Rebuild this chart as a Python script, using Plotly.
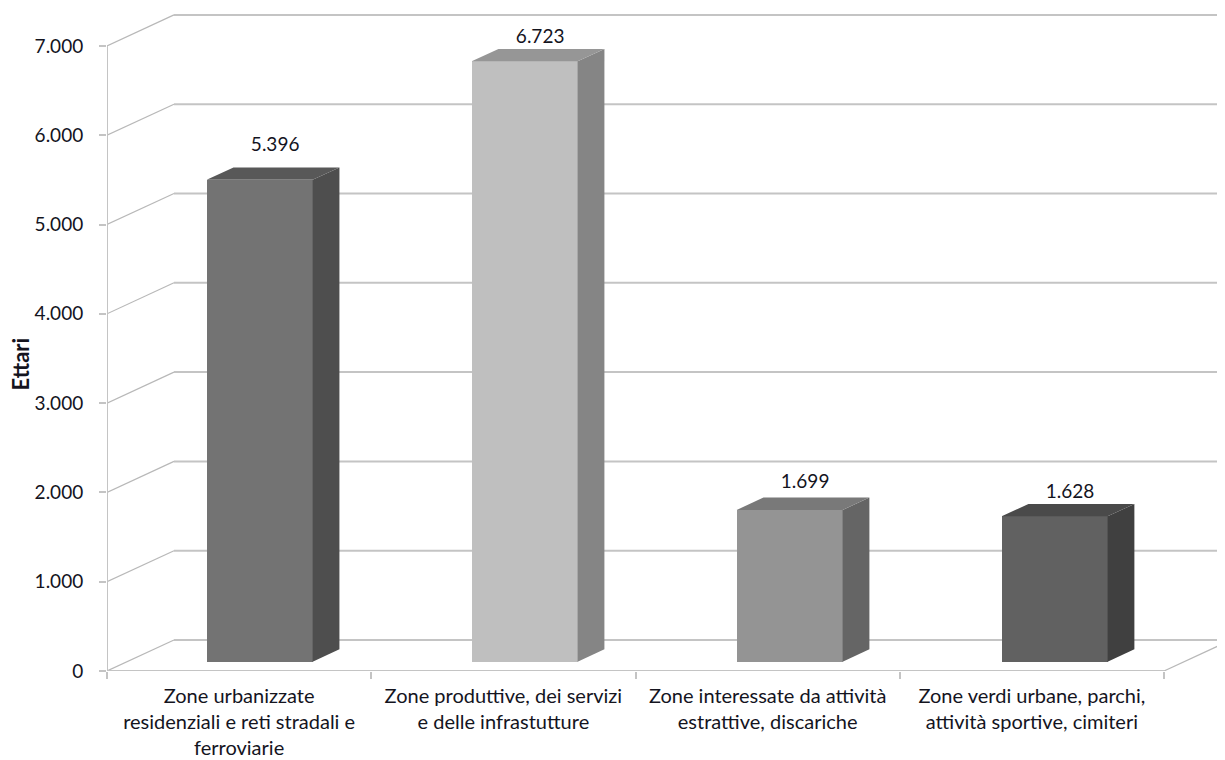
import plotly.graph_objects as go

categories = [
    "Zone urbanizzate<br>residenziali e reti stradali e<br>ferroviarie",
    "Zone produttive, dei servizi<br>e delle infrastutture",
    "Zone interessate da attività<br>estrattive, discariche",
    "Zone verdi urbane, parchi,<br>attività sportive, cimiteri",
]
values = [5396, 6723, 1699, 1628]
value_labels = ["5.396", "6.723", "1.699", "1.628"]
tick_values = [0, 1000, 2000, 3000, 4000, 5000, 6000, 7000]
tick_labels = ["0", "1.000", "2.000", "3.000", "4.000", "5.000", "6.000", "7.000"]

front_colors = ["#737373", "#bfbfbf", "#949494", "#616161"]
top_colors = ["#585858", "#969696", "#797979", "#4a4a4a"]
side_colors = ["#4e4e4e", "#858585", "#656565", "#404040"]
label_lift = [380, 260, 305, 260]

GRID = "#c4c4c4"
OBLIQUE = "#b8b8b8"
TEXT = "#14141e"
FONT = "Lato"

# oblique projection of the chart's depth, in axis units
DEPTH_X = 0.2535
DEPTH_Y = 347
BAR_W = 0.401
NEAR, FAR = 0.3, 0.7
BAR_STEP = 1.0028
n = len(categories)
slots = [i + 0.5 for i in range(n)]
centers = [(s + NEAR * DEPTH_X) * BAR_STEP for s in slots]
base_y = NEAR * DEPTH_Y
dx = (FAR - NEAR) * DEPTH_X
dy = (FAR - NEAR) * DEPTH_Y

fig = go.Figure()

fig.add_trace(go.Bar(
    x=centers, y=values, base=[base_y] * n, width=BAR_W,
    marker=dict(color=front_colors, line=dict(width=0)),
    showlegend=False, hoverinfo="skip",
))

for c, v, tc, sc in zip(centers, values, top_colors, side_colors):
    l, r = c - BAR_W / 2, c + BAR_W / 2
    t = base_y + v
    fig.add_trace(go.Scatter(
        x=[r, r + dx, r + dx, r, r], y=[base_y, base_y + dy, t + dy, t, base_y],
        fill="toself", fillcolor=sc, mode="lines", line=dict(width=0),
        showlegend=False, hoverinfo="skip",
    ))
    fig.add_trace(go.Scatter(
        x=[l, l + dx, r + dx, r, l], y=[t, t + dy, t + dy, t, t],
        fill="toself", fillcolor=tc, mode="lines", line=dict(width=0),
        showlegend=False, hoverinfo="skip",
    ))

fig.add_trace(go.Scatter(
    x=[c + dx / 2 + 0.008 for c in centers],
    y=[base_y + v + lift for v, lift in zip(values, label_lift)],
    text=value_labels, mode="text", textposition="middle center",
    textfont=dict(family=FONT, size=19, color=TEXT),
    showlegend=False, hoverinfo="skip",
))

shapes = []
for v in tick_values:
    shapes.append(dict(type="line", layer="below", xref="x", yref="y",
                       x0=DEPTH_X, x1=n + DEPTH_X, y0=v + DEPTH_Y, y1=v + DEPTH_Y,
                       line=dict(color=GRID, width=2)))
    shapes.append(dict(type="line", layer="below", xref="x", yref="y",
                       x0=0, x1=DEPTH_X, y0=v, y1=v + DEPTH_Y,
                       line=dict(color=OBLIQUE, width=1.2)))
shapes.append(dict(type="line", layer="below", xref="x", yref="y",
                   x0=n, x1=n + DEPTH_X, y0=0, y1=DEPTH_Y,
                   line=dict(color=OBLIQUE, width=1.2)))
shapes.append(dict(type="line", layer="below", xref="x", yref="y",
                   x0=0, x1=0, y0=0, y1=max(tick_values),
                   line=dict(color=GRID, width=2)))
shapes.append(dict(type="line", layer="below", xref="x", yref="y",
                   x0=0, x1=n, y0=0, y1=0,
                   line=dict(color=GRID, width=2)))

fig.update_layout(
    width=1217, height=752,
    margin=dict(l=99, r=0, t=2, b=89),
    paper_bgcolor="white", plot_bgcolor="white",
    shapes=shapes, showlegend=False, bargap=0,
    font=dict(family=FONT, size=19, color=TEXT),
    annotations=[dict(
        text="<b>Ettari</b>", textangle=-90, showarrow=False,
        xref="paper", yref="paper", x=-0.077, y=0.465,
        xanchor="center", yanchor="middle",
        font=dict(family=FONT, size=22, color=TEXT),
    )],
    xaxis=dict(
        range=[0, 1118 / 264.25], showgrid=False, zeroline=False, showline=False,
        automargin=False,
        tickmode="array", tickvals=slots, ticktext=categories,
        ticks="", ticklabelstandoff=11, tickangle=0,
        tickfont=dict(family=FONT, size=20, color=TEXT),
        minor=dict(tickvals=list(range(n + 1)), ticks="outside", ticklen=7,
                   tickwidth=2, tickcolor=GRID, showgrid=False),
    ),
    yaxis=dict(
        range=[0, 7402], showgrid=False, zeroline=False, showline=False,
        automargin=False,
        tickmode="array", tickvals=tick_values, ticktext=tick_labels,
        ticks="outside", ticklen=7, tickwidth=2, tickcolor=GRID,
        ticklabelstandoff=12,
        tickfont=dict(family=FONT, size=19, color=TEXT),
    ),
)

fig.write_html("out.html")
